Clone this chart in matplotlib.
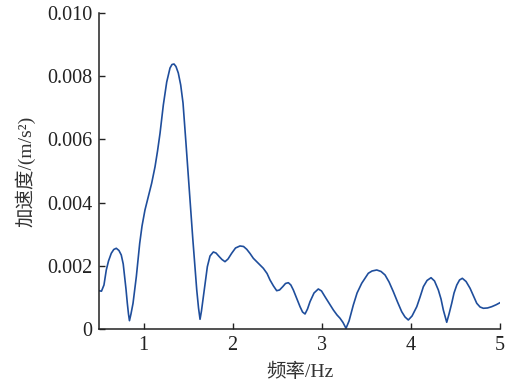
import matplotlib
matplotlib.use("Agg")
import matplotlib.pyplot as plt

# frequency (Hz) and acceleration (1e-3 m/s^2)
freq = [0.500, 0.528, 0.556, 0.582, 0.607, 0.638, 0.666, 0.694, 0.724, 0.750,
        0.772, 0.788, 0.803, 0.818, 0.831, 0.842, 0.859, 0.882, 0.901, 0.919,
        0.938, 0.957, 0.983, 1.016, 1.053, 1.091, 1.129, 1.157, 1.185, 1.222,
        1.260, 1.297, 1.319, 1.342, 1.364, 1.390, 1.417, 1.443, 1.476, 1.513,
        1.552, 1.597, 1.617, 1.634, 1.650, 1.671, 1.693, 1.716, 1.746, 1.783,
        1.813, 1.850, 1.880, 1.914, 1.948, 1.989, 2.032, 2.082, 2.122, 2.158,
        2.195, 2.232, 2.285, 2.344, 2.386, 2.419, 2.458, 2.494, 2.526, 2.562,
        2.593, 2.625, 2.653, 2.681, 2.717, 2.756, 2.784, 2.812, 2.840, 2.868,
        2.913, 2.961, 2.997, 3.036, 3.081, 3.130, 3.171, 3.205, 3.238, 3.272,
        3.306, 3.354, 3.396, 3.448, 3.522, 3.564, 3.617, 3.665, 3.710, 3.755,
        3.803, 3.850, 3.897, 3.934, 3.971, 4.013, 4.066, 4.103, 4.140, 4.181,
        4.226, 4.265, 4.308, 4.338, 4.364, 4.402, 4.428, 4.458, 4.484, 4.515,
        4.546, 4.577, 4.619, 4.664, 4.703, 4.739, 4.776, 4.813, 4.860, 4.907,
        4.956, 5.000]
acc_milli = [1.212, 1.196, 1.392, 1.867, 2.152, 2.396, 2.516, 2.554, 2.484, 2.342,
             2.057, 1.655, 1.266, 0.813, 0.475, 0.263, 0.475, 0.813, 1.234, 1.655,
             2.184, 2.712, 3.259, 3.766, 4.177, 4.611, 5.136, 5.633, 6.193, 7.089,
             7.816, 8.259, 8.370, 8.386, 8.307, 8.101, 7.722, 7.152, 5.886, 4.399,
             2.880, 1.234, 0.665, 0.307, 0.570, 1.022, 1.519, 1.972, 2.310, 2.437,
             2.405, 2.288, 2.199, 2.130, 2.215, 2.396, 2.563, 2.627, 2.611, 2.522,
             2.389, 2.237, 2.089, 1.921, 1.756, 1.551, 1.361, 1.212, 1.234, 1.339,
             1.440, 1.465, 1.392, 1.234, 0.981, 0.706, 0.538, 0.475, 0.633, 0.864,
             1.139, 1.266, 1.203, 1.022, 0.823, 0.601, 0.443, 0.339, 0.206, 0.022,
             0.253, 0.759, 1.139, 1.446, 1.763, 1.835, 1.867, 1.820, 1.709, 1.487,
             1.180, 0.854, 0.547, 0.380, 0.285, 0.411, 0.706, 1.013, 1.339, 1.535,
             1.623, 1.519, 1.234, 0.949, 0.601, 0.212, 0.475, 0.813, 1.139, 1.392,
             1.551, 1.604, 1.503, 1.288, 1.044, 0.813, 0.696, 0.655, 0.665, 0.706,
             0.766, 0.832]
acc = [v / 1000 for v in acc_milli]

xticks = [1, 2, 3, 4, 5]
yticks = [0, 0.002, 0.004, 0.006, 0.008, 0.010]
ytick_labels = ["0", "0.002", "0.004", "0.006", "0.008", "0.010"]

fonts = ["Liberation Serif", "Noto Sans CJK SC", "DejaVu Sans"]
plt.rcParams["font.family"] = fonts

fig = plt.figure(figsize=(5.11, 3.85), dpi=100)
ax = fig.add_axes([0.1937, 0.1455, 0.7848, 0.8207])
ax.plot(freq, acc, color="#1f4e9c", lw=1.2, solid_joinstyle="round")

ax.set_xlim(0.5, 5)
ax.set_ylim(0, 0.010)
ax.set_xticks(xticks)
ax.set_xticklabels([str(t) for t in xticks])
ax.set_yticks(yticks)
ax.set_yticklabels(ytick_labels)
ax.tick_params(direction="in", length=4, width=1, labelsize=14.5, colors="#222222", pad=5)
for s in ["top", "right"]:
    ax.spines[s].set_visible(False)
for s in ["left", "bottom"]:
    ax.spines[s].set_linewidth(1.1)
    ax.spines[s].set_color("#222222")

ax.set_xlabel("频率/Hz", fontsize=14, color="#333333", labelpad=6)
ax.set_ylabel("加速度/(m/s²)", fontsize=14, color="#333333", labelpad=8)

fig.savefig("out.png", dpi=100)
